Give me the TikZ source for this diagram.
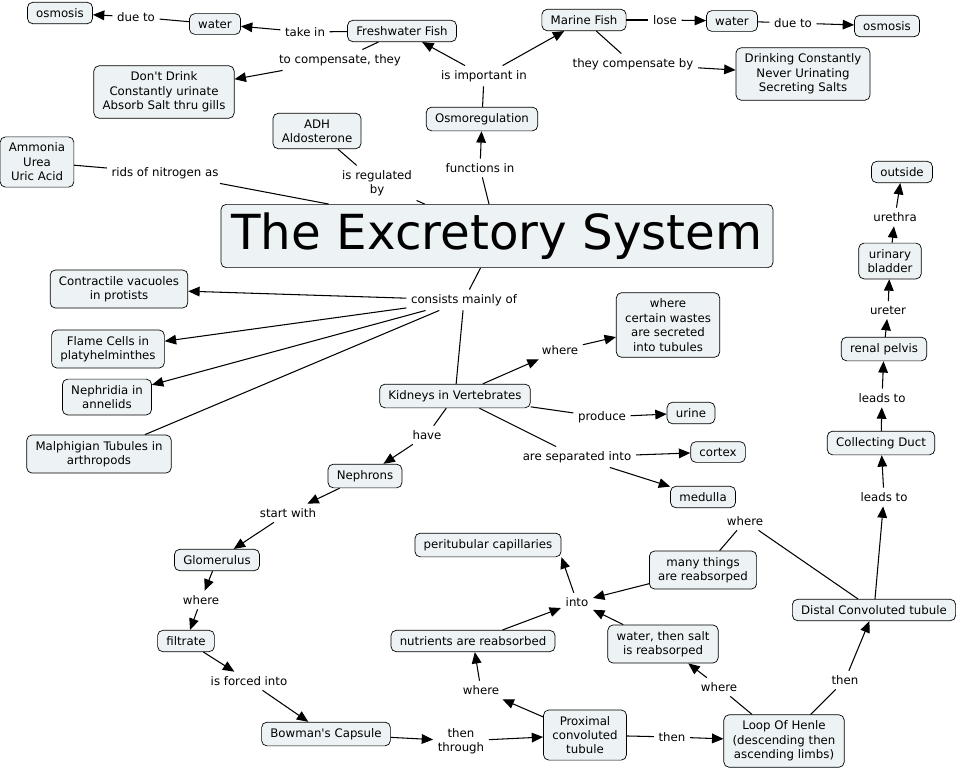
\documentclass[tikz,border=0pt]{standalone}
\usepackage{fontspec}
\setmainfont{DejaVu Sans}
\usepackage{tikz}
\usetikzlibrary{arrows.meta}
\definecolor{cmapfill}{RGB}{237,243,245}

\begin{document}
\begin{tikzpicture}[x=0.02cm,y=-0.02cm,
    concept/.style={draw,rounded corners=3pt,fill=cmapfill,align=center,inner xsep=5pt,inner ysep=3.5pt,
      font=\fontsize{6.7}{8.2}\selectfont},
    link/.style={align=center,inner sep=2.5pt,font=\fontsize{6.7}{8.2}\selectfont},
    conn/.style={line width=0.6pt},
    arr/.style={conn,-{Triangle[length=6.5pt,width=5.5pt]}}]
\useasboundingbox (0,0) rectangle (959,772);

% concepts
\node[concept] (osm1) at (60,13) {osmosis};
\node[concept] (wat1) at (215,24) {water};
\node[concept] (fw) at (402,31) {Freshwater Fish};
\node[concept] (nodrink) at (164,92) {Don\textquotesingle t Drink\\Constantly urinate\\Absorb Salt thru gills};
\node[concept] (mf) at (584,20) {Marine Fish};
\node[concept] (wat2) at (732,21) {water};
\node[concept] (osm2) at (887,26) {osmosis};
\node[concept] (drink) at (803,74) {Drinking Constantly\\Never Urinating\\Secreting Salts};
\node[concept] (osmo) at (482,119) {Osmoregulation};
\node[concept] (adh) at (317,131) {ADH\\Aldosterone};
\node[concept] (ammo) at (37,162) {Ammonia\\Urea\\Uric Acid};
\node[concept,font=\fontsize{27.5}{30}\selectfont,inner xsep=6pt,minimum height=36pt] (exc) at (497,236) {The Excretory System};
\node[concept] (out) at (902,172) {outside};
\node[concept] (blad) at (890,261) {urinary\\bladder};
\node[concept] (pelv) at (884,349) {renal pelvis};
\node[concept] (cd) at (881,443) {Collecting Duct};
\node[concept] (dct) at (874,610) {Distal Convoluted tubule};
\node[concept] (cv) at (119,289) {Contractile vacuoles\\in protists};
\node[concept] (flame) at (108,349) {Flame Cells in\\platyhelminthes};
\node[concept] (nephr) at (107,397) {Nephridia in\\annelids};
\node[concept] (malp) at (99,454) {Malphigian Tubules in\\arthropods};
\node[concept] (wastes) at (668,325) {where\\certain wastes\\are secreted\\into tubules};
\node[concept] (kid) at (455,396) {Kidneys in Vertebrates};
\node[concept] (urine) at (691,413) {urine};
\node[concept] (cortex) at (718,452) {cortex};
\node[concept] (med) at (703,497) {medulla};
\node[concept] (neph) at (365,476) {Nephrons};
\node[concept] (glom) at (217,560) {Glomerulus};
\node[concept] (filt) at (186,641) {filtrate};
\node[concept] (bow) at (326,734) {Bowman\textquotesingle s Capsule};
\node[concept] (peri) at (488,545) {peritubular capillaries};
\node[concept] (many) at (703,570) {many things\\are reabsorped};
\node[concept] (nutr) at (473,641) {nutrients are reabsorbed};
\node[concept] (wsalt) at (663,644) {water, then salt\\is reabsorped};
\node[concept] (pct) at (585,735) {Proximal\\convoluted\\tubule};
\node[concept] (loop) at (784,741) {Loop Of Henle\\(descending then\\ascending limbs)};

% linking phrases
\node[link] (dueto1) at (136,17) {due to};
\node[link] (takein) at (305,32) {take in};
\node[link] (tocomp) at (340,60) {to compensate, they};
\node[link] (impin) at (484,76) {is important in};
\node[link] (lose) at (665,20) {lose};
\node[link] (dueto2) at (793,23) {due to};
\node[link] (compby) at (633,64) {they compensate by};
\node[link] (funcin) at (480,168) {functions in};
\node[link] (regby) at (377,183) {is regulated\\by};
\node[link] (rids) at (165,173) {rids of nitrogen as};
\node[link] (cons) at (464,300) {consists mainly of};
\node[link] (whw) at (560,350) {where};
\node[link] (prod) at (602,417) {produce};
\node[link] (sep) at (577,457) {are separated into};
\node[link] (have) at (427,435) {have};
\node[link] (start) at (288,513) {start with};
\node[link] (whg) at (201,600) {where};
\node[link] (forced) at (249,681) {is forced into};
\node[link] (thru) at (461,741) {then\\through};
\node[link] (whp) at (481,690) {where};
\node[link] (into) at (577,602) {into};
\node[link] (whd) at (745,521) {where};
\node[link] (whl) at (719,687) {where};
\node[link] (then1) at (672,737) {then};
\node[link] (then2) at (845,680) {then};
\node[link] (leads1) at (884,497) {leads to};
\node[link] (leads2) at (882,398) {leads to};
\node[link] (ureter) at (888,310) {ureter};
\node[link] (urethra) at (895,217) {urethra};

% fish
\draw[conn] (fw) -- (takein);
\draw[arr] (takein) -- (wat1);
\draw[conn] (wat1) -- (dueto1);
\draw[arr] (dueto1) -- (osm1);
\draw[conn] (fw) -- (tocomp);
\draw[arr] (tocomp) -- (nodrink);
\draw[conn] (osmo) -- (impin);
\draw[arr] (impin) -- (fw);
\draw[arr] (impin) -- (mf);
\draw[conn] (mf) -- (lose);
\draw[arr] (lose) -- (wat2);
\draw[conn] (wat2) -- (dueto2);
\draw[arr] (dueto2) -- (osm2);
\draw[conn] (mf) -- (compby);
\draw[arr] (compby) -- (drink);

% around the title
\draw[conn] (exc) -- (funcin);
\draw[arr] (funcin) -- (osmo);
\draw[conn] (adh) -- (regby);
\draw[conn] (regby) -- (exc);
\draw[conn] (ammo) -- (rids);
\draw[conn] (rids) -- (exc);
\draw[conn] (exc) -- (cons);
\draw[arr] (cons) -- (cv);
\draw[arr] (cons) -- (flame);
\draw[arr] (cons) -- (nephr);
\draw[conn] (cons) -- (malp);
\draw[conn] (cons) -- (kid);

% kidneys
\draw[arr] (kid) -- (whw);
\draw[arr] (whw) -- (wastes);
\draw[conn] (kid) -- (prod);
\draw[arr] (prod) -- (urine);
\draw[conn] (kid) -- (sep);
\draw[arr] (sep) -- (cortex);
\draw[arr] (sep) -- (med);
\draw[conn] (kid) -- (have);
\draw[arr] (have) -- (neph);

% nephron path
\draw[arr] (neph) -- (start);
\draw[arr] (start) -- (glom);
\draw[arr] (glom) -- (whg);
\draw[arr] (whg) -- (filt);
\draw[arr] (filt) -- (forced);
\draw[arr] (forced) -- (bow);
\draw[arr] (bow) -- (thru);
\draw[arr] (thru) -- (pct);
\draw[arr] (pct) -- (whp);
\draw[arr] (whp) -- (nutr);
\draw[arr] (nutr) -- (into);
\draw[arr] (many) -- (into);
\draw[arr] (wsalt) -- (into);
\draw[arr] (into) -- (peri.south east);
\draw[conn] (pct) -- (then1);
\draw[arr] (then1) -- (loop);
\draw[conn] (loop) -- (whl);
\draw[arr] (whl) -- (wsalt);
\draw[conn] (loop) -- (then2);
\draw[arr] (then2) -- (dct);
\draw[conn] (dct) -- (whd);
\draw[conn] (whd) -- (many);

% out of the body
\draw[arr] (dct) -- (leads1);
\draw[arr] (leads1) -- (cd);
\draw[arr] (cd) -- (leads2);
\draw[arr] (leads2) -- (pelv);
\draw[arr] (pelv) -- (ureter);
\draw[arr] (ureter) -- (blad);
\draw[arr] (blad) -- (urethra);
\draw[arr] (urethra) -- (out);
\end{tikzpicture}
\end{document}
